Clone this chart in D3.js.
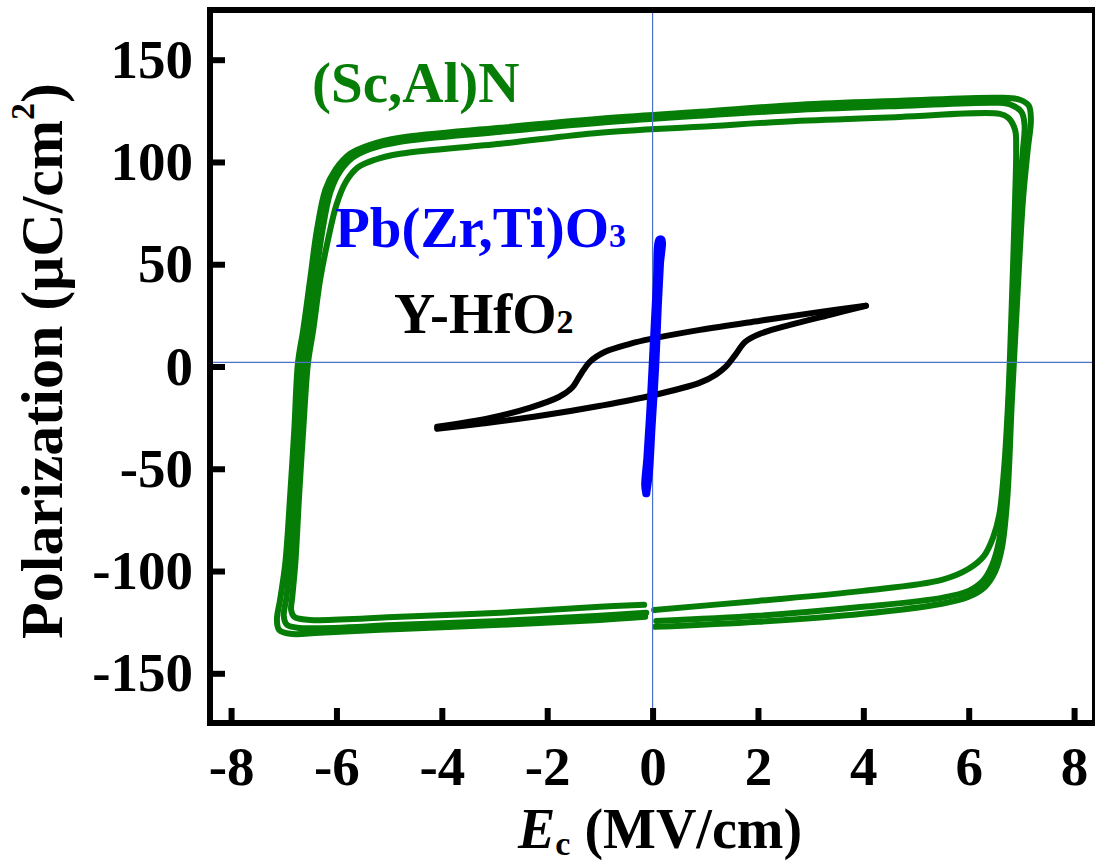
<!DOCTYPE html>
<html>
<head>
<meta charset="utf-8">
<script src="https://cdn.jsdelivr.net/npm/d3@7"></script>
</head>
<body style="margin:0">
<svg id="chart" width="1095" height="863" style="display:block"></svg>
<script>
// Axis ticks
const xTicks = [-8, -6, -4, -2, 0, 2, 4, 6, 8];
const yTicks = [-150, -100, -50, 0, 50, 100, 150];

// (Sc,Al)N loops [E (MV/cm), P (uC/cm2)], three overlaid cycles
const scalnLoopOuter = [[0.05,-127.3],[2.0,-124.8],[3.99,-120.9],[5.49,-116.0],[6.0,-112.6],[6.31,-107.7],[6.5,-100.4],[6.63,-88.7],[6.73,-65.2],[6.82,-16.3],[6.92,32.6],[7.03,81.5],[7.12,106.0],[7.18,120.6],[7.14,127.5],[6.97,130.4],[6.59,131.4],[4.7,129.9],[2.8,128.0],[0.9,124.5],[-1.0,121.1],[-2.89,116.7],[-4.79,111.8],[-5.36,108.4],[-5.74,104.0],[-6.02,96.2],[-6.21,86.4],[-6.37,66.8],[-6.5,42.4],[-6.63,18.0],[-6.73,1.8],[-6.8,-30.9],[-6.88,-63.7],[-6.97,-96.0],[-7.07,-114.1],[-7.13,-123.8],[-7.09,-128.7],[-6.88,-130.7],[-6.31,-130.2],[-4.79,-128.3],[-2.89,-126.3],[-1.0,-123.9],[-0.14,-122.4]];
const scalnLoopMid = [[0.07,-124.4],[2.0,-121.9],[3.99,-117.5],[5.49,-113.1],[6.0,-109.7],[6.27,-104.8],[6.44,-97.4],[6.58,-84.7],[6.67,-62.7],[6.76,-16.3],[6.86,32.6],[6.95,81.5],[7.03,106.0],[7.06,118.2],[7.0,124.5],[6.81,127.9],[6.59,128.9],[4.7,127.4],[2.8,125.5],[0.9,122.6],[-1.0,119.2],[-2.89,114.8],[-4.79,109.9],[-5.36,106.4],[-5.7,102.0],[-5.95,94.7],[-6.12,84.9],[-6.27,65.9],[-6.4,42.4],[-6.54,18.0],[-6.63,1.8],[-6.71,-30.9],[-6.78,-63.7],[-6.88,-96.0],[-6.95,-113.1],[-7.0,-121.9],[-6.94,-126.3],[-6.69,-127.8],[-4.79,-126.3],[-2.89,-124.4],[-1.0,-121.9],[-0.12,-120.4]];
const scalnLoopInner = [[0.03,-119.0],[2.0,-114.6],[3.99,-109.7],[5.49,-104.3],[6.0,-98.9],[6.29,-92.6],[6.46,-83.8],[6.58,-72.5],[6.67,-50.5],[6.75,-16.3],[6.82,32.6],[6.88,81.5],[6.9,106.0],[6.88,115.7],[6.75,121.6],[6.59,123.5],[4.7,122.0],[2.8,120.1],[0.9,117.2],[-1.0,114.3],[-2.89,108.9],[-4.79,104.0],[-5.27,101.1],[-5.6,97.2],[-5.82,90.3],[-6.0,79.1],[-6.16,62.0],[-6.31,42.4],[-6.44,18.0],[-6.54,1.8],[-6.63,-30.9],[-6.71,-63.7],[-6.78,-96.0],[-6.84,-113.1],[-6.86,-119.0],[-6.8,-122.4],[-6.5,-123.9],[-4.79,-122.4],[-2.89,-120.4],[-1.0,-117.5],[-0.16,-116.5]];

// Pb(Zr,Ti)O3 loop
const pztLoop = [[-0.12,-62],[-0.07,-52],[-0.02,-30],[0.05,0],[0.1,30],[0.14,50],[0.17,62],[0.13,62],[0.08,40],[0.02,10],[-0.04,-20],[-0.1,-45],[-0.14,-58],[-0.12,-62]];

// Y-HfO2 loop
const hfo2Upper = [[-4.09,-29.5],[-3.06,-25.0],[-2.32,-20.1],[-1.77,-14.8],[-1.53,-10.4],[-1.38,-4.5],[-1.19,2.3],[-0.9,7.2],[-0.43,11.1],[-0.03,13.5],[0.9,17.9],[2.04,22.4],[3.18,26.7],[4.05,29.7]];
const hfo2Lower = [[4.05,29.7],[3.37,25.3],[2.61,20.4],[2.04,16.0],[1.76,12.1],[1.57,5.7],[1.39,-0.1],[1.2,-4.0],[0.9,-7.9],[-0.03,-14.3],[-0.99,-19.2],[-2.13,-24.1],[-3.27,-28.0],[-4.09,-30.5]];

// Reference cross lines
const crossX = 0;
const crossY = 2;

const width = 1095, height = 863;
const plotLeft = 210, plotRight = 1092, plotTop = 10, plotBottom = 723;

const svg = d3.select('#chart');

const x = d3.scaleLinear([-8.4, 8.34], [plotLeft, plotRight]);
const y = d3.scaleLinear([-174.3, 174.3], [plotBottom, plotTop]);

const line = d3.line()
    .x(d => x(d[0]))
    .y(d => y(d[1]))
    .curve(d3.curveCatmullRom.alpha(0.5));

const green = '#067d06';

// (Sc,Al)N loops
svg.append('g').selectAll('path')
    .data([scalnLoopOuter, scalnLoopMid, scalnLoopInner])
    .join('path')
    .attr('d', line)
    .attr('fill', 'none')
    .attr('stroke', green)
    .attr('stroke-width', 6)
    .attr('stroke-linejoin', 'round')
    .attr('stroke-linecap', 'round');

// Cross lines
svg.append('line')
    .attr('x1', x(crossX)).attr('x2', x(crossX))
    .attr('y1', plotTop).attr('y2', plotBottom)
    .attr('stroke', '#4a72c8').attr('stroke-width', 1.2);
svg.append('line')
    .attr('x1', plotLeft).attr('x2', plotRight)
    .attr('y1', y(crossY)).attr('y2', y(crossY))
    .attr('stroke', '#4a72c8').attr('stroke-width', 1.2);

// Y-HfO2 loop
svg.append('g').selectAll('path')
    .data([hfo2Upper, hfo2Lower])
    .join('path')
    .attr('d', line)
    .attr('fill', 'none')
    .attr('stroke', '#000')
    .attr('stroke-width', 6)
    .attr('stroke-linejoin', 'round')
    .attr('stroke-linecap', 'round');

// PZT loop
svg.append('path')
    .datum(pztLoop)
    .attr('d', line)
    .attr('fill', 'none')
    .attr('stroke', '#0000ff')
    .attr('stroke-width', 8)
    .attr('stroke-linejoin', 'round')
    .attr('stroke-linecap', 'round');

// Axes
const axisX = svg.append('g')
    .attr('transform', `translate(0,${plotBottom})`)
    .call(d3.axisBottom(x).tickValues(xTicks).tickSizeInner(-15).tickSizeOuter(0).tickPadding(23).tickFormat(d => String(d)));
const axisY = svg.append('g')
    .attr('transform', `translate(${plotLeft},0)`)
    .call(d3.axisLeft(y).tickValues(yTicks).tickSizeInner(-15).tickSizeOuter(0).tickPadding(17).tickFormat(d => String(d)));

axisX.select('.domain').remove();
axisY.select('.domain').remove();
axisX.selectAll('.tick line').attr('stroke', '#000').attr('stroke-width', 6);
axisY.selectAll('.tick line').attr('stroke', '#000').attr('stroke-width', 6);
axisX.selectAll('.tick text').attr('fill', '#000')
    .style('font-family', '"Liberation Serif"').style('font-weight', 'bold').style('font-size', '55px');
axisY.selectAll('.tick text').attr('fill', '#000')
    .style('font-family', '"Liberation Serif"').style('font-weight', 'bold').style('font-size', '55px');

// Frame
svg.append('rect')
    .attr('x', plotLeft).attr('y', plotTop)
    .attr('width', width - plotLeft).attr('height', plotBottom - plotTop)
    .attr('fill', 'none')
    .attr('stroke', '#000')
    .attr('stroke-width', 6);

// Series labels
svg.append('text')
    .attr('x', 312).attr('y', 102)
    .attr('fill', green)
    .style('font-family', '"Liberation Serif"').style('font-weight', 'bold').style('font-size', '57px')
    .text('(Sc,Al)N');

const pztLabel = svg.append('text')
    .attr('x', 335).attr('y', 247)
    .attr('fill', '#0000ff')
    .style('font-family', '"Liberation Serif"').style('font-weight', 'bold').style('font-size', '57px');
pztLabel.append('tspan').text('Pb(Zr,Ti)O');
pztLabel.append('tspan').style('font-size', '34px').text('3');

const hfoLabel = svg.append('text')
    .attr('x', 394).attr('y', 333)
    .attr('fill', '#000')
    .style('font-family', '"Liberation Serif"').style('font-weight', 'bold').style('font-size', '57px');
hfoLabel.append('tspan').text('Y-HfO');
hfoLabel.append('tspan').style('font-size', '34px').text('2');

// Axis titles
const xTitle = svg.append('text')
    .attr('x', 660).attr('y', 848)
    .attr('text-anchor', 'middle')
    .style('font-family', '"Liberation Serif"').style('font-weight', 'bold').style('font-size', '56px');
xTitle.append('tspan').style('font-style', 'italic').text('E');
xTitle.append('tspan').attr('dy', 7).style('font-size', '34px').text('c');
xTitle.append('tspan').attr('dy', -7).text(' (MV/cm)');

const yTitle = svg.append('text')
    .attr('transform', 'translate(62,361) rotate(-90)')
    .attr('text-anchor', 'middle')
    .style('font-family', '"Liberation Serif"').style('font-weight', 'bold').style('font-size', '60px');
yTitle.append('tspan').text('Polarization (μC/cm');
yTitle.append('tspan').attr('dy', -28).style('font-size', '34px').text('2');
yTitle.append('tspan').attr('dy', 28).text(')');
</script>
</body>
</html>
